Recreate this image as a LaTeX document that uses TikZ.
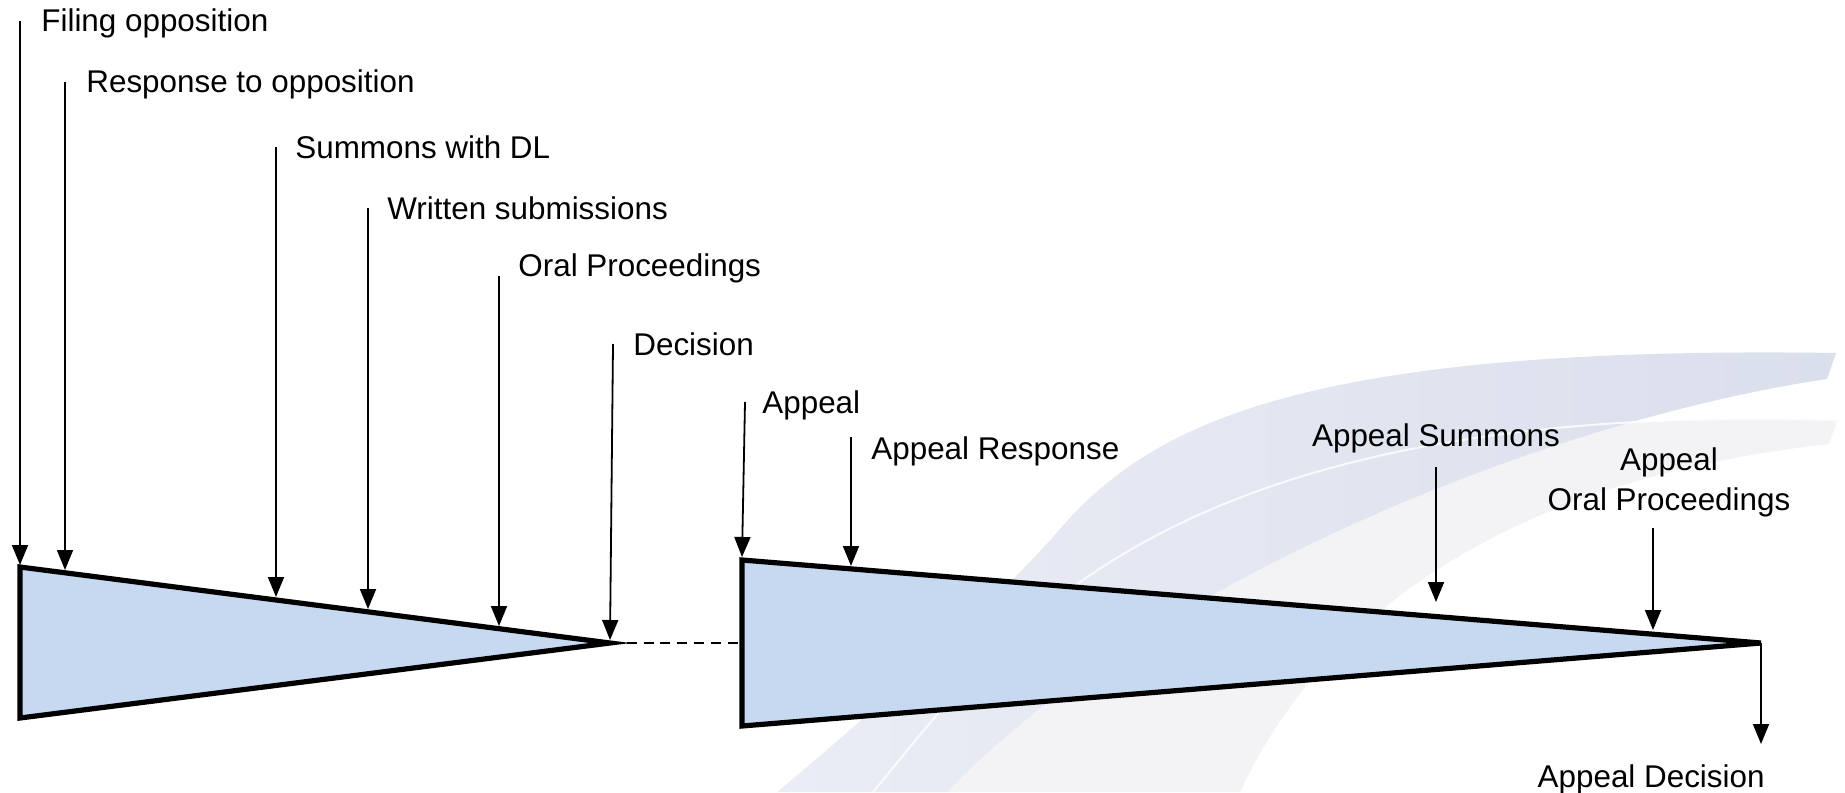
\documentclass[tikz,border=0pt]{standalone}
\usepackage{fontspec}
\setmainfont{Liberation Sans}
\usetikzlibrary{arrows.meta}
\definecolor{wedgefill}{RGB}{198,217,241}
\definecolor{swooshdark}{RGB}{218,223,236}
\definecolor{swooshpale}{RGB}{234,237,245}
\definecolor{swooshgray}{RGB}{243,243,245}
\tikzset{
  wedge/.style={draw=black,fill=wedgefill,line width=2.6pt,line join=miter},
  event/.style={draw=black,line width=0.9pt,-{Triangle[width=8pt,length=10pt]}},
  lbl/.style={inner sep=0pt,font=\fontsize{15.7}{20}\selectfont},
  link/.style={draw=black,line width=1pt,dash pattern=on 5pt off 3.4pt},
}
\begin{document}
\begin{tikzpicture}[x=0.5pt,y=-0.5pt]
\useasboundingbox (0,0) rectangle (1845,792);

% faint logo swoosh in the background
\fill[swooshgray] (873,792) .. controls (1000,640) and (1150,400) .. (1838,420)
  -- (1830,444) .. controls (1500,480) and (1320,620) .. (1240,792) -- cycle;
\shade[left color=swooshpale,right color=swooshdark]
  (777,792) .. controls (840,740) and (990,610) .. (1059,530)
  .. controls (1150,425) and (1300,345) .. (1836,353)
  -- (1827,379) .. controls (1550,420) and (1150,580) .. (947,792) -- cycle;
\draw[white,line width=1pt,opacity=0.8]
  (873,792) .. controls (1000,640) and (1150,400) .. (1838,420) -- (1830,444);

% opposition phase
\coordinate (t1) at (20,567);
\coordinate (b1) at (20,718);
\coordinate (d1) at (610,643);
\path[wedge] (t1) -- (d1) -- (b1) -- cycle;

% appeal phase
\coordinate (t2) at (742,560);
\coordinate (b2) at (742,726);
\coordinate (d2) at (1761,643);
\path[wedge] (t2) -- (d2) -- (b2) -- cycle;

\draw[link] (d1) -- (t2 |- d1);

% labels
\node[lbl,anchor=base west] (fo) at (41,32) {Filing opposition};
\node[lbl,anchor=base west] (ro) at (86,93) {Response to opposition};
\node[lbl,anchor=base west] (sdl) at (295,158) {Summons with DL};
\node[lbl,anchor=base west] (ws) at (387,219) {Written submissions};
\node[lbl,anchor=base west] (op) at (518,276) {Oral Proceedings};
\node[lbl,anchor=base west] (dc) at (633,355) {Decision};
\node[lbl,anchor=base west] (ap) at (762,413) {Appeal};
\node[lbl,anchor=base west] (ar) at (871,459) {Appeal Response};
\node[lbl,anchor=base] (as) at (1436,446) {Appeal Summons};
\node[lbl,anchor=base,align=center] (aop) at (1669,510) {Appeal\\Oral Proceedings};
\node[lbl,anchor=base east] (ad) at (1765,787) {Appeal Decision};

% arrow starts
\coordinate (fo0) at (20,21);
\coordinate (ro0) at (65,82);
\coordinate (sdl0) at (276,147);
\coordinate (ws0) at (368,208);
\coordinate (op0) at (499,276);
\coordinate (dc0) at (613,344);
\coordinate (ap0) at (745,402);
\coordinate (ar0) at (851,437);
\coordinate (as0) at (1436,467);
\coordinate (aop0) at (1653,528);
% arrow ends
\coordinate (fo1) at (20,565);
\coordinate (ro1) at (65,570);
\coordinate (sdl1) at (276,597);
\coordinate (ws1) at (368,609);
\coordinate (op1) at (499,626);
\coordinate (dc1) at (610,640);
\coordinate (ap1) at (742,557);
\coordinate (ar1) at (851,566);
\coordinate (as1) at (1436,602);
\coordinate (aop1) at (1653,630);
\coordinate (ad1) at (1761,744);

\draw[event] (fo0) -- (fo1);
\draw[event] (ro0) -- (ro1);
\draw[event] (sdl0) -- (sdl1);
\draw[event] (ws0) -- (ws1);
\draw[event] (op0) -- (op1);
\draw[event] (dc0) -- (dc1);
\draw[event] (ap0) -- (ap1);
\draw[event] (ar0) -- (ar1);
\draw[event] (as0) -- (as1);
\draw[event] (aop0) -- (aop1);
\draw[event] (d2) -- (ad1);
\end{tikzpicture}
\end{document}
